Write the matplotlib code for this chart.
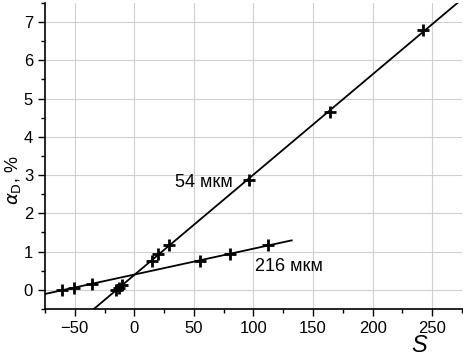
import numpy as np
import matplotlib
matplotlib.use("Agg")
import matplotlib.pyplot as plt
from matplotlib.ticker import MultipleLocator

# 54 мкм
s_54 = [-15.6, -13, -10.3, 14.5, 20, 29, 96.6, 164, 242.6]
a_54 = [0.0, 0.04, 0.13, 0.76, 0.93, 1.16, 2.87, 4.66, 6.79]
# 216 мкм
s_216 = [-60.5, -50.3, -35.5, 55, 80.4, 112.4]
a_216 = [0.0, 0.05, 0.16, 0.76, 0.94, 1.17]

# диапазоны линий аппроксимации
fit_range_54 = [-40, 280]
fit_range_216 = [-75, 132]

plt.rcParams['font.family'] = ['Liberation Sans', 'DejaVu Sans']

fig = plt.figure(figsize=(4.63, 3.58), dpi=100)
ax = fig.add_axes([0.097, 0.137, 0.901, 0.855])

for s, a, rng in [(s_54, a_54, fit_range_54), (s_216, a_216, fit_range_216)]:
    k, b = np.polyfit(s, a, 1)
    xx = np.array(rng)
    ax.plot(xx, k * xx + b, color='black', lw=1.3, zorder=3)
    ax.plot(s, a, ls='none', marker='+', ms=8.5, mew=2, color='black', zorder=4)

ax.text(34, 2.8, "54 мкм", fontsize=13, va='center', ha='left')
ax.text(101, 0.62, "216 мкм", fontsize=13, va='center', ha='left')

ax.set_xlim(-75, 275)
ax.set_ylim(-0.5, 7.5)
ax.xaxis.set_major_locator(MultipleLocator(50))
ax.xaxis.set_minor_locator(MultipleLocator(25))
ax.yaxis.set_major_locator(MultipleLocator(1))
ax.yaxis.set_minor_locator(MultipleLocator(0.5))
ax.tick_params(which='major', direction='out', length=5, width=1, labelsize=12)
ax.tick_params(which='minor', direction='out', length=3, width=1)
ax.grid(True, which='major', color='#d0d0d0', lw=0.8)
ax.set_axisbelow(True)

for side in ['top', 'right']:
    ax.spines[side].set_visible(False)
for side in ['left', 'bottom']:
    ax.spines[side].set_linewidth(1.2)

ax.set_ylabel(r'$\alpha_{\rm D}$, %', fontsize=13)
ax.yaxis.set_label_coords(-0.052, 0.42)
fig.text(0.905, 0.035, "S", fontsize=17, style='italic', ha='center', va='center')

plt.savefig("out.png", dpi=100)
